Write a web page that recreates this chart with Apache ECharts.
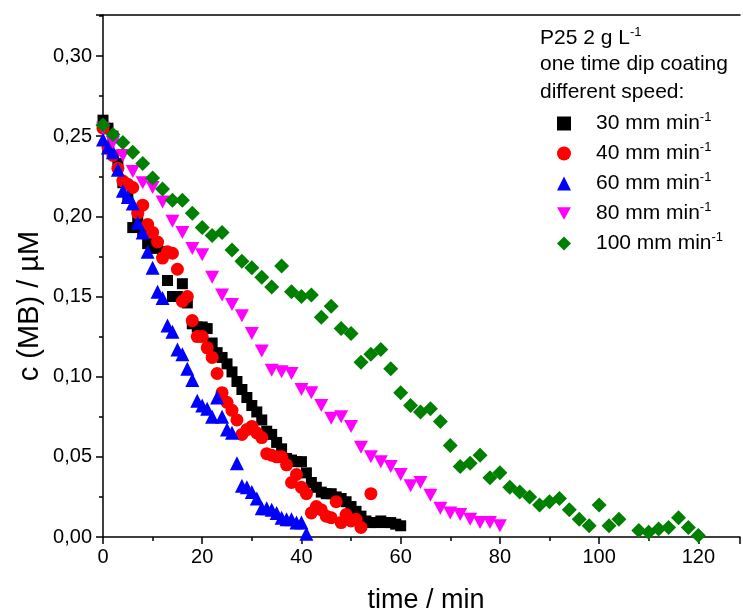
<!DOCTYPE html>
<html><head><meta charset="utf-8">
<script src="https://cdn.jsdelivr.net/npm/echarts@6/dist/echarts.min.js"></script>
<style>html,body{margin:0;padding:0;background:#fff}#c{width:743px;height:614px}</style>
</head><body><div id="c"></div>
<script>
// ---- data ----
const seriesNames = ['30 mm min', '40 mm min', '60 mm min', '80 mm min', '100 mm min'];
const t30 = [0,1,2,3,4,5,6,7,8,9,10,11,12,13,14,15,16,17,18,19,20,21,22,23,24,25,26,27,28,29,30,31,32,33,34,35,36,37,38,39,40,41,42,43,44,45,46,47,48,49,50,51,52,53,54,55,56,57,58,59,60];
const c30 = [0.260,0.255,0.250,0.233,0.221,0.212,0.193,0.199,0.190,0.183,0.180,0.182,0.178,0.160,0.150,0.150,0.158,0.146,0.133,0.131,0.131,0.130,0.121,0.115,0.112,0.108,0.103,0.097,0.092,0.087,0.082,0.078,0.073,0.066,0.064,0.059,0.055,0.049,0.048,0.047,0.047,0.040,0.034,0.031,0.028,0.027,0.027,0.025,0.024,0.022,0.019,0.016,0.013,0.010,0.009,0.009,0.010,0.009,0.009,0.008,0.007];
const t40 = [0,1,2,3,4,5,6,7,8,9,10,11,12,13,14,15,16,17,18,19,20,21,22,23,24,25,26,27,28,29,30,31,32,33,34,35,36,37,38,39,40,41,42,43,44,45,46,47,48,49,50,51,52,54];
const c40 = [0.255,0.243,0.238,0.230,0.222,0.220,0.218,0.202,0.207,0.195,0.190,0.184,0.174,0.178,0.177,0.167,0.147,0.150,0.135,0.125,0.125,0.118,0.112,0.102,0.090,0.084,0.079,0.073,0.064,0.067,0.069,0.065,0.062,0.052,0.051,0.050,0.050,0.045,0.034,0.039,0.031,0.027,0.015,0.019,0.017,0.013,0.012,0.022,0.009,0.014,0.010,0.011,0.006,0.027];
const t60 = [0,1,2,3,4,5,6,7,8,9,10,11,12,13,14,15,16,17,18,19,20,21,22,23,24,25,26,27,28,29,30,31,32,33,34,35,36,37,38,39,40,41];
const c60 = [0.248,0.243,0.240,0.229,0.216,0.212,0.208,0.196,0.190,0.178,0.168,0.153,0.149,0.132,0.128,0.117,0.114,0.105,0.098,0.085,0.082,0.080,0.075,0.087,0.075,0.067,0.065,0.046,0.032,0.031,0.028,0.024,0.018,0.018,0.017,0.015,0.012,0.011,0.011,0.009,0.009,0.002];
const t80 = [0,2,4,6,8,10,12,14,16,18,20,22,24,26,28,30,32,34,36,38,40,42,44,46,48,50,52,54,56,58,60,62,64,66,68,70,72,74,76,78,80];
const c80 = [0.255,0.246,0.238,0.228,0.221,0.218,0.209,0.197,0.190,0.180,0.176,0.162,0.151,0.145,0.138,0.127,0.116,0.104,0.103,0.102,0.092,0.090,0.082,0.074,0.075,0.069,0.056,0.050,0.047,0.044,0.039,0.032,0.034,0.026,0.018,0.015,0.014,0.011,0.009,0.009,0.007];
const t100 = [0,2,4,6,8,10,12,14,16,18,20,22,24,26,28,30,32,34,36,38,40,42,44,46,48,50,52,54,56,58,60,62,64,66,68,70,72,74,76,78,80,82,84,86,88,90,92,94,96,98,100,102,104,108,110,112,114,116,118,120];
const c100 = [0.257,0.251,0.246,0.240,0.233,0.224,0.217,0.210,0.210,0.202,0.193,0.188,0.190,0.179,0.172,0.168,0.162,0.156,0.169,0.153,0.150,0.151,0.137,0.144,0.130,0.127,0.109,0.114,0.117,0.105,0.090,0.082,0.078,0.080,0.072,0.057,0.044,0.046,0.051,0.037,0.040,0.031,0.028,0.025,0.020,0.022,0.024,0.017,0.011,0.007,0.020,0.007,0.011,0.004,0.003,0.005,0.006,0.012,0.006,0.001];
const xTicks = [0,20,40,60,80,100,120];
const yTicks = [0,0.05,0.10,0.15,0.20,0.25,0.30];

// ---- chart ----
const FONT = '"Liberation Sans", Arial, sans-serif';
const pair = (t, c) => t.map((v, i) => [v, c[i]]);
const styles = [
  {symbol: 'rect', size: 11, color: '#000000'},
  {symbol: 'circle', size: 13, color: '#ff0000'},
  {symbol: 'triangle', size: 14, color: '#0000ff'},
  {symbol: 'path://M0,0 L10,0 L5,9 Z', size: [14, 13], color: '#ff00ff'},
  {symbol: 'diamond', size: 15, color: '#008000'}
];
const dataSets = [pair(t30, c30), pair(t40, c40), pair(t60, c60), pair(t80, c80), pair(t100, c100)];
const chart = echarts.init(document.getElementById('c'), null, {renderer: 'canvas'});
const isTick = (v, list) => list.some(t => Math.abs(t - v) < 1e-9);
chart.setOption({
  animation: false,
  textStyle: {fontFamily: FONT},
  grid: {left: 103, right: 0, top: 15, bottom: 77},
  xAxis: [{
    type: 'value', min: 0, max: 128.4, interval: 20,
    axisLine: {lineStyle: {color: '#000', width: 1.5}},
    axisTick: {length: 7, lineStyle: {color: '#000', width: 1.5}},
    minorTick: {show: true, splitNumber: 2, length: 4, lineStyle: {color: '#000', width: 1.5}},
    axisLabel: {color: '#000', fontSize: 20, fontFamily: FONT, margin: 10,
      formatter: v => isTick(v, xTicks) ? String(v) : ''},
    splitLine: {show: false}
  }, {
    type: 'value', position: 'top', min: 0, max: 128.4,
    axisLine: {show: true, onZero: false, lineStyle: {color: '#000', width: 1.5}},
    axisTick: {show: false}, axisLabel: {show: false}, splitLine: {show: false}
  }],
  yAxis: {
    type: 'value', min: 0, max: 0.3256, interval: 0.05,
    axisLine: {lineStyle: {color: '#000', width: 1.5}},
    axisTick: {length: 7, lineStyle: {color: '#000', width: 1.5}},
    minorTick: {show: true, splitNumber: 2, length: 4, lineStyle: {color: '#000', width: 1.5}},
    axisLabel: {color: '#000', fontSize: 20, fontFamily: FONT, margin: 11,
      formatter: v => isTick(v, yTicks) ? v.toFixed(2).replace('.', ',') : ''},
    splitLine: {show: false}
  },
  legend: {
    orient: 'vertical', left: 557, top: 111, padding: 0,
    itemWidth: 14, itemHeight: 14, itemGap: 7,
    data: seriesNames,
    formatter: n => '{t|' + n + '}{s|-1}',
    textStyle: {
      color: '#000', fontFamily: FONT,
      rich: {
        t: {fontSize: 21, fontFamily: FONT, color: '#000', padding: [0, 0, 0, 20]},
        s: {fontSize: 13, fontFamily: FONT, color: '#000', padding: [0, 0, 12, 0]}
      }
    }
  },
  graphic: [
    {type: 'text', left: 540, top: 26, style: {
      rich: {
        t: {fontSize: 21, fontFamily: FONT, fill: '#000'},
        s: {fontSize: 13, fontFamily: FONT, fill: '#000', padding: [0, 0, 12, 0]}
      },
      text: '{t|P25 2 g L}{s|-1}'}},
    {type: 'text', left: 540, top: 54, style: {text: 'one time dip coating', fontSize: 21, fontFamily: FONT, fill: '#000'}},
    {type: 'text', left: 540, top: 82, style: {text: 'different speed:', fontSize: 21, fontFamily: FONT, fill: '#000'}},
    {type: 'text', x: 426, y: 601, style: {text: 'time / min', fontSize: 27, fontFamily: FONT, fill: '#000', align: 'center', verticalAlign: 'middle'}},
    {type: 'text', x: 30, y: 306, rotation: Math.PI / 2, style: {text: 'c (MB) / µM', fontSize: 29, fontFamily: FONT, fill: '#000', align: 'center', verticalAlign: 'middle'}}
  ],
  series: dataSets.map((d, i) => ({
    type: 'scatter', name: seriesNames[i], data: d,
    symbol: styles[i].symbol, symbolSize: styles[i].size,
    itemStyle: {color: styles[i].color, opacity: 1},
    emphasis: {disabled: true},
    z: 2 + i
  }))
});
</script></body></html>
